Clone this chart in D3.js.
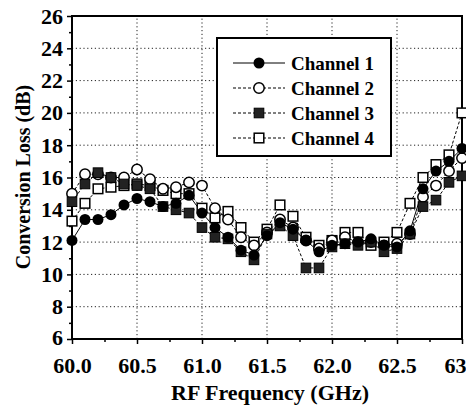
<!DOCTYPE html>
<html><head><meta charset="utf-8">
<script src="https://cdn.jsdelivr.net/npm/d3@7"></script>
<style>
body{margin:0;background:#fff;}
text{font-family:"Liberation Serif","Times New Roman","DejaVu Serif",serif;font-weight:bold;fill:#000;}
</style></head>
<body><svg id="c" width="466" height="413"></svg>
<script>
const freqs = [60.0,60.1,60.2,60.3,60.4,60.5,60.6,60.7,60.8,60.9,61.0,61.1,61.2,61.3,61.4,61.5,61.6,61.7,61.8,61.9,62.0,62.1,62.2,62.3,62.4,62.5,62.6,62.7,62.8,62.9,63.0];
const ch1 = [12.1,13.4,13.4,13.7,14.3,14.7,14.5,14.2,14.4,14.9,13.8,12.9,12.3,11.5,11.2,12.4,13.2,12.8,12.1,11.4,11.8,11.9,12.0,12.2,11.8,11.7,12.7,15.3,16.4,17.0,17.8];
const ch2 = [15.0,16.2,16.2,16.0,16.0,16.5,15.9,15.3,15.4,15.7,15.5,14.1,13.4,12.3,11.8,12.6,13.4,12.9,12.1,11.6,12.1,12.3,12.0,12.0,11.8,11.9,12.5,14.8,15.5,16.4,17.2];
const ch3 = [14.5,15.6,16.3,16.0,15.6,15.5,15.3,14.2,14.0,13.8,12.9,12.3,12.2,11.4,10.9,12.5,13.0,12.4,10.4,10.4,11.7,11.9,11.8,12.0,11.4,11.6,12.5,14.2,14.6,15.7,16.1];
const ch4 = [13.3,14.4,15.3,15.4,15.5,15.6,15.5,15.2,15.0,15.0,14.1,13.5,13.9,12.9,12.0,12.8,14.3,13.6,12.3,11.8,12.1,12.6,12.6,11.8,12.0,12.6,14.4,16.0,16.8,17.4,20.0];
const seriesNames = ["Channel 1","Channel 2","Channel 3","Channel 4"];
const xTicks = [60.0,60.5,61.0,61.5,62.0,62.5,63.0];
const xTickLabels = ["60.0","60.5","61.0","61.5","62.0","62.5","63"];
const yTicks = [6,8,10,12,14,16,18,20,22,24,26];

const svg = d3.select("#c");
const x = d3.scaleLinear().domain([60,63]).range([72,462]);
const y = d3.scaleLinear().domain([6,26]).range([339,16]);

// grid
const g = svg.append("g");
g.selectAll(".gy").data(yTicks.filter(v=>v>6&&v<26)).enter().append("line")
  .attr("x1",x(60)).attr("x2",x(63)).attr("y1",d=>y(d)).attr("y2",d=>y(d))
  .attr("stroke","#222").attr("stroke-width",1).attr("stroke-dasharray","1.2,2.6");
g.selectAll(".gx").data(xTicks.filter(v=>v>60&&v<63)).enter().append("line")
  .attr("y1",y(6)).attr("y2",y(26)).attr("x1",d=>x(d)).attr("x2",d=>x(d))
  .attr("stroke","#222").attr("stroke-width",1).attr("stroke-dasharray","1.2,2.6");

// frame
svg.append("rect").attr("x",x(60)).attr("y",y(26)).attr("width",x(63)-x(60)).attr("height",y(6)-y(26))
  .attr("fill","none").attr("stroke","#000").attr("stroke-width",2);

// axes
const xAxis = d3.axisBottom(x).tickValues(xTicks).tickFormat((d,i)=>xTickLabels[i]).tickSize(5).tickPadding(13);
const xa = svg.append("g").attr("transform",`translate(0,${y(6)})`).call(xAxis);
const xMinor = d3.axisBottom(x).tickValues(d3.range(60.25,63,0.5)).tickFormat("").tickSize(3);
svg.append("g").attr("transform",`translate(0,${y(6)})`).call(xMinor);
const yAxis = d3.axisLeft(y).tickValues(yTicks).tickSize(5).tickPadding(4);
const ya = svg.append("g").attr("transform",`translate(${x(60)},0)`).call(yAxis);
const yMinor = d3.axisLeft(y).tickValues(d3.range(7,26,2)).tickFormat("").tickSize(3);
svg.append("g").attr("transform",`translate(${x(60)},0)`).call(yMinor);
svg.selectAll(".domain").remove();
svg.selectAll(".tick line").attr("stroke","#000").attr("stroke-width",1.5);
svg.selectAll("g").attr("font-family",null);
xa.selectAll("text").style("font-size","22px");
xa.selectAll(".tick").filter(d=>d===63).select("text").attr("text-anchor","end").attr("x",4);
ya.selectAll("text").style("font-size","22px");
ya.selectAll(".tick").filter(d=>d===6).select("text").attr("dy","0.25em");

// titles
svg.append("text").attr("x",270).attr("y",400).attr("text-anchor","middle").style("font-size","22px").text("RF Frequency (GHz)");
svg.append("text").attr("transform","translate(30,177) rotate(-90)").attr("text-anchor","middle").style("font-size","20px").text("Conversion Loss (dB)");

// series
const data = [ch1,ch2,ch3,ch4];
const dashes = [null,"3,2","3,2","3,2"];
const line = d3.line().x((d,i)=>x(freqs[i])).y(d=>y(d));
function marker(sel,k,cx,cy){
  if(k===0) sel.append("circle").attr("cx",cx).attr("cy",cy).attr("r",5.5).attr("fill","#000");
  else if(k===1) sel.append("circle").attr("cx",cx).attr("cy",cy).attr("r",5.2).attr("fill","#fff").attr("stroke","#000").attr("stroke-width",1.5);
  else if(k===2) sel.append("rect").attr("x",cx-4.8).attr("y",cy-4.8).attr("width",9.6).attr("height",9.6).attr("fill","#222").attr("stroke","#000").attr("stroke-width",1);
  else sel.append("rect").attr("x",cx-4.8).attr("y",cy-4.8).attr("width",9.6).attr("height",9.6).attr("fill","#fff").attr("stroke","#000").attr("stroke-width",1.5);
}
const order = [3,1,2,0];
order.forEach(k=>{
  svg.append("path").datum(data[k]).attr("d",line).attr("fill","none").attr("stroke","#000")
    .attr("stroke-width",1).attr("stroke-dasharray",dashes[k]);
});
order.forEach(k=>{
  const gg = svg.append("g");
  data[k].forEach((v,i)=>marker(gg,k,x(freqs[i]),y(v)));
});

// legend
const lg = svg.append("g");
lg.append("rect").attr("x",217).attr("y",38).attr("width",174).attr("height",118).attr("fill","#fff").attr("stroke","#000").attr("stroke-width",2);
seriesNames.forEach((n,k)=>{
  const ly = 63+k*25;
  lg.append("line").attr("x1",233).attr("x2",285).attr("y1",ly).attr("y2",ly).attr("stroke","#000").attr("stroke-width",1).attr("stroke-dasharray",dashes[k]);
  marker(lg,k,259,ly);
  lg.append("text").attr("x",291).attr("y",ly).attr("dy","0.35em").style("font-size","19px").text(n);
});
</script></body></html>
